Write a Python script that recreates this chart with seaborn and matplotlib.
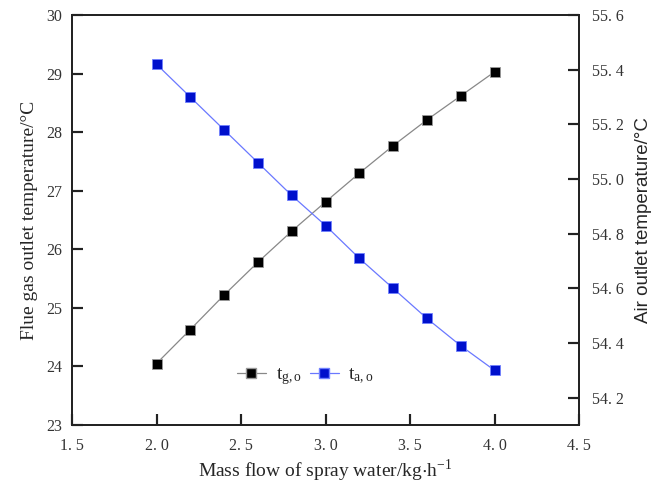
import matplotlib
matplotlib.use("Agg")
import matplotlib.pyplot as plt
import seaborn as sns
import pandas as pd
from matplotlib.lines import Line2D

flow = [2.0, 2.2, 2.4, 2.6, 2.8, 3.0, 3.2, 3.4, 3.6, 3.8, 4.0]
t_gas = [24.05, 24.63, 25.22, 25.78, 26.31, 26.81, 27.30, 27.77, 28.21, 28.62, 29.03]
t_air = [55.42, 55.30, 55.18, 55.06, 54.94, 54.83, 54.71, 54.60, 54.49, 54.39, 54.30]

x_ticks = [1.5, 2.0, 2.5, 3.0, 3.5, 4.0, 4.5]
x_labels = ["1. 5", "2. 0", "2. 5", "3. 0", "3. 5", "4. 0", "4. 5"]
yl_ticks = [23, 24, 25, 26, 27, 28, 29, 30]
yr_ticks = [54.2, 54.4, 54.6, 54.8, 55.0, 55.2, 55.4, 55.6]
yr_labels = ["54. 2", "54. 4", "54. 6", "54. 8", "55. 0", "55. 2", "55. 4", "55. 6"]

sns.set_style("ticks")
plt.rcParams["font.family"] = ["Liberation Serif", "DejaVu Serif"]
plt.rcParams["mathtext.fontset"] = "stix"

df = pd.DataFrame({"flow": flow, "gas": t_gas, "air": t_air})

fig = plt.figure(figsize=(6.68, 4.86), dpi=100)
ax = fig.add_axes([0.1078, 0.1255, 0.759, 0.8435])
ax2 = ax.twinx()

sns.lineplot(data=df, x="flow", y="gas", ax=ax, color="#888888", lw=0.9,
             marker="s", markersize=6.5, markerfacecolor="black",
             markeredgecolor="#999999", markeredgewidth=0.6)
sns.lineplot(data=df, x="flow", y="air", ax=ax2, color="#6a78ff", lw=0.9,
             marker="s", markersize=6.5, markerfacecolor="#0010cc",
             markeredgecolor="#7080ff", markeredgewidth=0.6)

ax.set_xlim(1.5, 4.5)
ax.set_ylim(23, 30)
ax2.set_ylim(54.1, 55.6)
ax.set_xticks(x_ticks)
ax.set_xticklabels(x_labels)
ax.set_yticks(yl_ticks)
ax2.set_yticks(yr_ticks)
ax2.set_yticklabels(yr_labels)

ax.tick_params(direction="in", length=8, width=1.5, color="#222222",
               labelsize=11.5, labelcolor="#333333")
ax2.tick_params(direction="in", length=8, width=1.5, color="#222222",
                labelsize=11.5, labelcolor="#333333")
ax.tick_params(axis="x", pad=9)
ax.tick_params(axis="y", pad=7)
ax2.tick_params(axis="y", pad=9)

# inward tick marks drawn along the axes at the tick positions
tick_kw = dict(colors="#222222", linewidth=1.5, clip_on=False, zorder=6)
ax.vlines(x_ticks, 0, 0.027, transform=ax.get_xaxis_transform(), **tick_kw)
ax.hlines(yl_ticks, 0, 0.022, transform=ax.get_yaxis_transform(), **tick_kw)
ax2.hlines(yr_ticks, 0.978, 1, transform=ax2.get_yaxis_transform(), **tick_kw)
ax.set_xlim(1.5, 4.5)
ax.set_ylim(23, 30)
ax2.set_ylim(54.1, 55.6)

for a in (ax, ax2):
    for s in a.spines.values():
        s.set_linewidth(1.3)
        s.set_color("#222222")

ax.set_xlabel("Mass flow of spray water/kg$\\cdot$h$^{\\mathregular{-1}}$", fontsize=14, labelpad=3)
ax.set_ylabel("Flue gas outlet temperature/°C", fontsize=14, labelpad=6)
ax2.set_ylabel("Air outlet temperature/°C", fontsize=13.5, family=["Liberation Sans", "DejaVu Sans"],
               labelpad=8)

h1 = Line2D([], [], color="#888888", lw=0.9, marker="s", markersize=6.5,
            markerfacecolor="black", markeredgecolor="#999999")
h2 = Line2D([], [], color="#6a78ff", lw=0.9, marker="s", markersize=6.5,
            markerfacecolor="#0010cc", markeredgecolor="#7080ff")
ax.legend([h1, h2], ["$\\mathregular{t_{g,o}}$", "$\\mathregular{t_{a,o}}$"], ncol=2, frameon=False,
          loc="center", bbox_to_anchor=(0.46, 0.118), fontsize=14, handlelength=1.5,
          columnspacing=0.4, handletextpad=0.5)

fig.savefig("out.png", dpi=100)
